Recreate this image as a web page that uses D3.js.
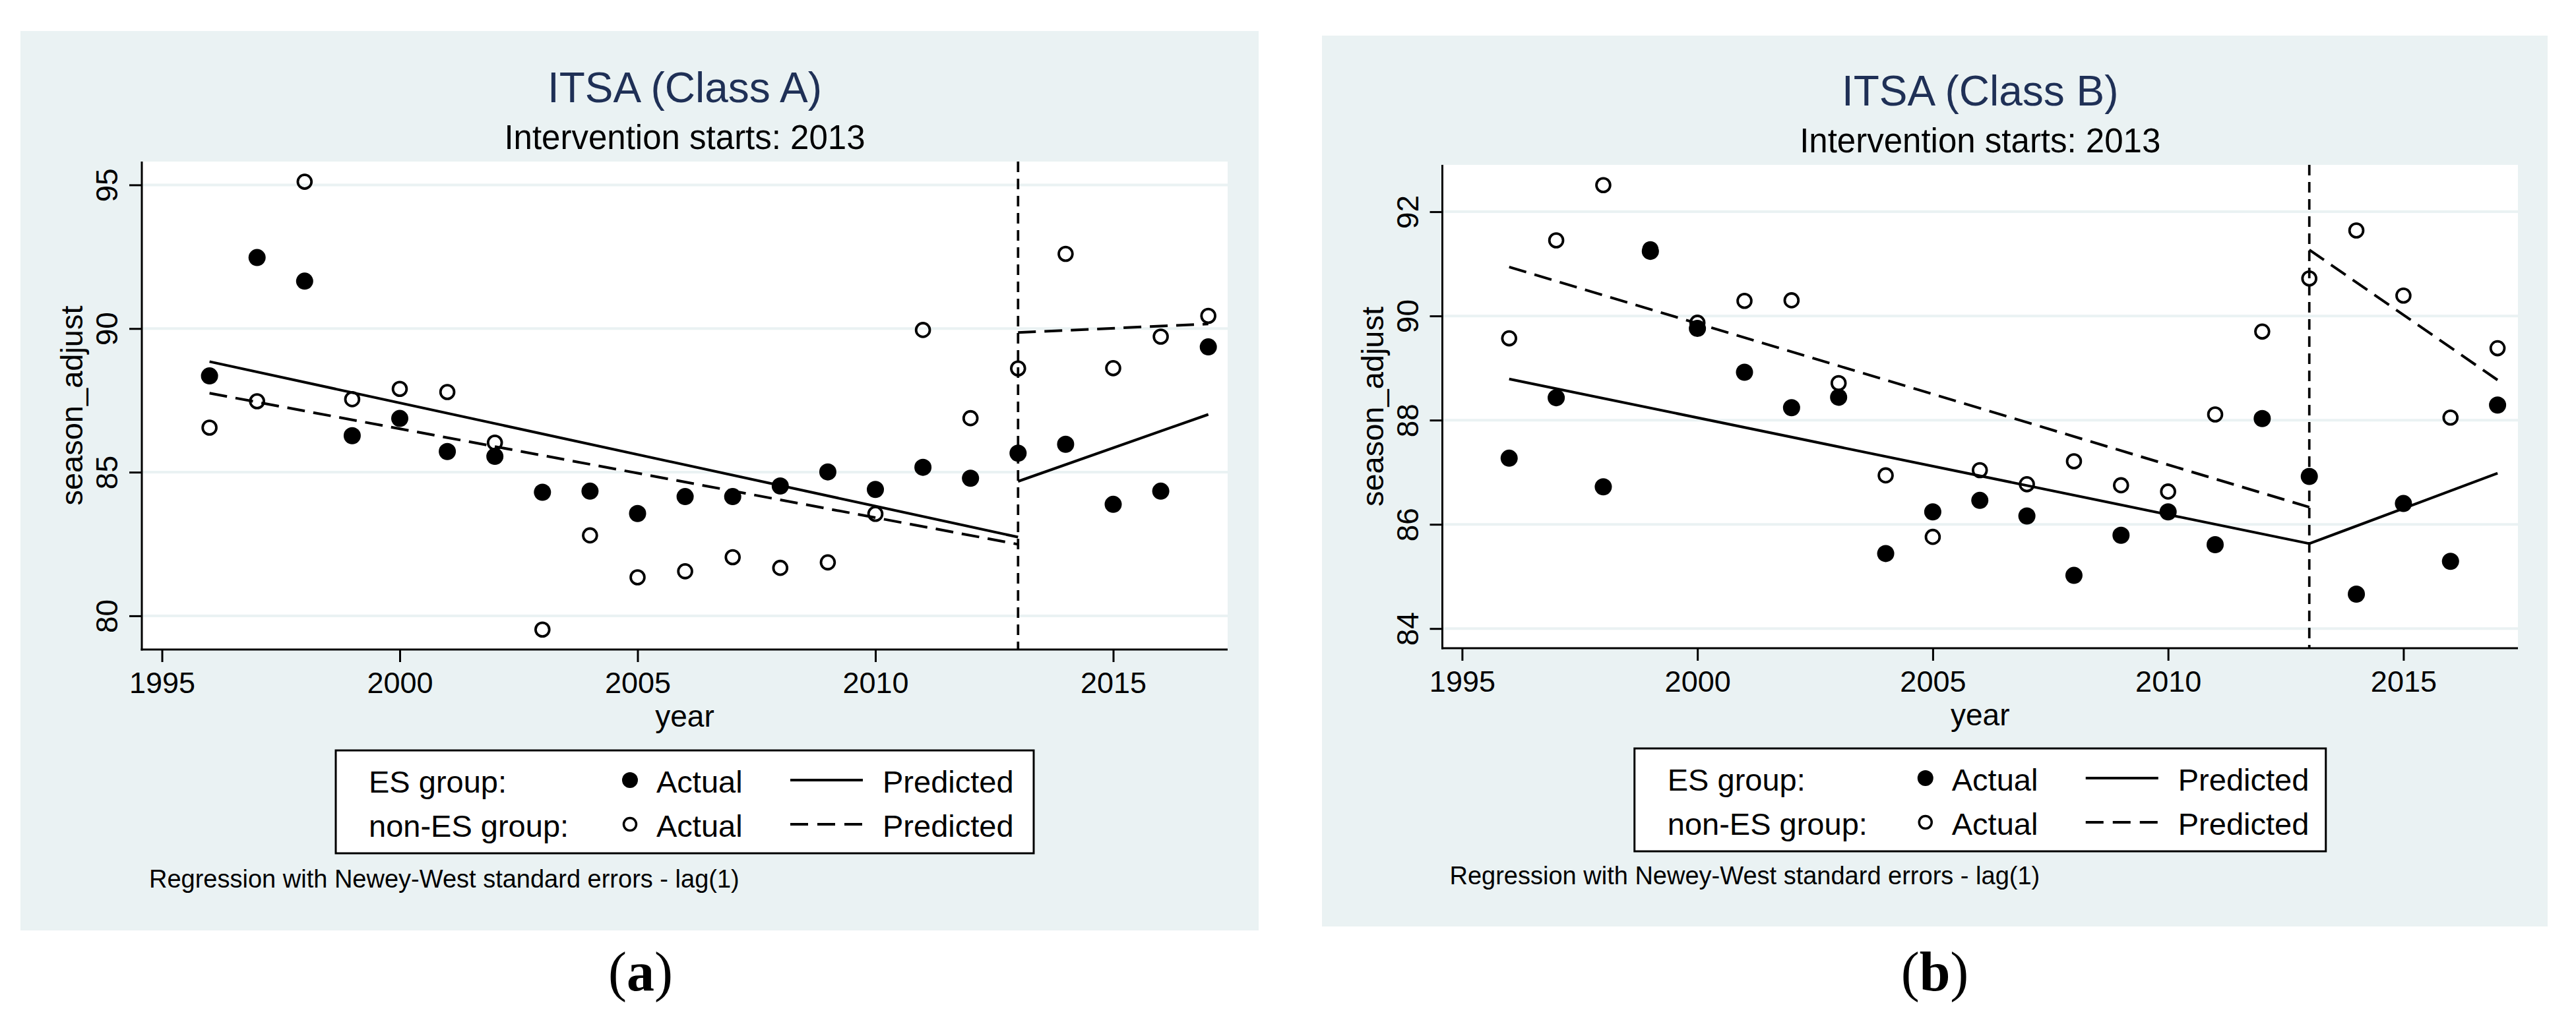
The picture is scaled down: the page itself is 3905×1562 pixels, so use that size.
<!DOCTYPE html>
<html>
<head>
<meta charset="utf-8">
<script src="https://cdn.jsdelivr.net/npm/d3@7"></script>
<style>
body { margin: 0; background: #fff; }
text { font-family: "Liberation Sans", Arial, Helvetica, sans-serif; }
text.cap { font-family: "Liberation Serif", "Times New Roman", serif; }
</style>
</head>
<body>
<svg id="fig" width="3905" height="1562"></svg>
<script>

// ---- data ----
let years = [1996,1997,1998,1999,2000,2001,2002,2003,2004,2005,2006,2007,2008,2009,2010,2011,2012,2013,2014,2015,2016,2017];
let xTickYears = [1995,2000,2005,2010,2015];
let interventionYear = 2013;

// class A
let esA    = [88.35,92.47,91.65,86.27,86.87,85.72,85.55,84.30,84.34,83.56,84.15,84.15,84.52,85.01,84.40,85.17,84.79,85.66,85.97,83.88,84.34,89.36];
let nonEsA = [86.55,87.47,95.11,87.54,87.90,87.79,86.03,79.52,82.80,81.34,81.55,82.04,81.67,81.86,83.55,89.95,86.88,88.61,92.60,88.62,89.72,90.44];
let yTicksA = [80,85,90,95];

// class B
let esB    = [87.27,88.43,86.72,91.24,89.76,88.92,88.24,88.44,85.44,86.24,86.46,86.16,85.02,85.79,86.24,85.61,88.03,86.92,84.66,86.40,85.29,88.29];
let nonEsB = [89.57,91.45,92.51,91.28,89.87,90.29,90.30,88.71,86.94,85.76,87.04,86.77,87.21,86.75,86.63,88.11,89.70,90.72,91.64,90.39,88.05,89.38];
let yTicksB = [84,86,88,90,92];

// predicted segments: before and after the intervention
let preYears  = [1996, 2013];
let postYears = [2013, 2017];
let esPreA = [88.85, 82.74],  esPostA = [84.68, 87.01];
let nonPreA = [87.75, 82.49], nonPostA = [89.86, 90.16];
let esPreB = [88.79, 85.63],  esPostB = [85.63, 86.98];
let nonPreB = [90.94, 86.33], nonPostB = [91.27, 88.77];

// text
let titles = ["ITSA (Class A)", "ITSA (Class B)"];
let subtitle = "Intervention starts: 2013";
let legendGroups = ["ES group:", "non-ES group:"];
let legendActual = "Actual";
let legendPred = "Predicted";
let note = "Regression with Newey-West standard errors - lag(1)";
let captions = ["a", "b"];

// ---- drawing ----
const svg = d3.select("#fig");
const bgColor = "#eaf2f3";
const navy = "#1f3056";

let panels = [
    { title: titles[0], cap: captions[0], es: esA, non: nonEsA, esPre: esPreA, esPost: esPostA, nonPre: nonPreA, nonPost: nonPostA,
      yTicks: yTicksA, yDomain: [80, 95], yRange: [933.9, 280.4], xRange: [245.5, 1831.7],
      bg: [31, 47, 1908, 1411], l: 215, r: 1861, t: 245, b: 985,
      legTop: 1138, legHalf: 529, noteY: 1346, capX: 971 },
    { title: titles[1], cap: captions[1], es: esB, non: nonEsB, esPre: esPreB, esPost: esPostB, nonPre: nonPreB, nonPost: nonPostB,
      yTicks: yTicksB, yDomain: [84, 92], yRange: [953.2, 321.1], xRange: [2216.4, 3786.1],
      bg: [2004, 54, 3862, 1405], l: 2186.5, r: 3817, t: 250, b: 983,
      legTop: 1135, legHalf: 524, noteY: 1341, capX: 2933 }
];

panels.forEach(p => drawPanel(p));

function drawPanel(p) {
    let g = svg.append("g");
    let cx = (p.l + p.r) / 2;

    g.append("rect")
        .attr("x", p.bg[0]).attr("y", p.bg[1])
        .attr("width", p.bg[2] - p.bg[0]).attr("height", p.bg[3] - p.bg[1])
        .attr("fill", bgColor);

    g.append("rect")
        .attr("x", p.l).attr("y", p.t)
        .attr("width", p.r - p.l).attr("height", p.b - p.t)
        .attr("fill", "#fff");

    let x = d3.scaleLinear().domain([1995, 2017]).range(p.xRange);
    let y = d3.scaleLinear().domain(p.yDomain).range(p.yRange);

    // grid
    g.selectAll(".grid")
        .data(p.yTicks)
        .join("line")
        .attr("class", "grid")
        .attr("x1", p.l).attr("x2", p.r)
        .attr("y1", d => y(d)).attr("y2", d => y(d))
        .attr("stroke", bgColor).attr("stroke-width", 4);

    // y axis
    let ya = g.append("g")
        .attr("transform", `translate(${p.l},0)`)
        .call(d3.axisLeft(y).tickValues(p.yTicks).tickSize(19).tickSizeOuter(0).tickFormat(d3.format("d")));
    ya.select(".domain").remove();
    ya.selectAll(".tick line").attr("stroke", "#000").attr("stroke-width", 3);
    ya.selectAll(".tick text")
        .attr("transform", "rotate(-90)")
        .attr("x", 0).attr("y", -37).attr("dy", null)
        .attr("text-anchor", "middle")
        .attr("font-size", 46).attr("font-family", null).attr("fill", "#000");

    // x axis
    let xa = g.append("g")
        .attr("transform", `translate(0,${p.b})`)
        .call(d3.axisBottom(x).tickValues(xTickYears).tickSize(19).tickSizeOuter(0).tickFormat(d3.format("d")));
    xa.select(".domain").remove();
    xa.selectAll(".tick line").attr("stroke", "#000").attr("stroke-width", 3);
    xa.selectAll(".tick text")
        .attr("y", 66).attr("dy", null)
        .attr("font-size", 45).attr("font-family", null).attr("fill", "#000");

    // axis lines
    g.append("line").attr("x1", p.l).attr("x2", p.l).attr("y1", p.t).attr("y2", p.b + 1.5)
        .attr("stroke", "#000").attr("stroke-width", 3);
    g.append("line").attr("x1", p.l - 1.5).attr("x2", p.r).attr("y1", p.b).attr("y2", p.b)
        .attr("stroke", "#000").attr("stroke-width", 3);

    // markers
    g.append("g").selectAll("circle")
        .data(years.map((yr, i) => [yr, p.non[i]]))
        .join("circle")
        .attr("cx", d => x(d[0])).attr("cy", d => y(d[1]))
        .attr("r", 10.4)
        .attr("fill", "none").attr("stroke", "#000").attr("stroke-width", 3.8);

    g.append("g").selectAll("circle")
        .data(years.map((yr, i) => [yr, p.es[i]]))
        .join("circle")
        .attr("cx", d => x(d[0])).attr("cy", d => y(d[1]))
        .attr("r", 13)
        .attr("fill", "#000");

    // predicted lines
    let line = d3.line().x(d => x(d[0])).y(d => y(d[1]));
    let seg = (yrs, vals) => yrs.map((yr, i) => [yr, vals[i]]);

    [seg(preYears, p.esPre), seg(postYears, p.esPost)].forEach(s => {
        g.append("path").attr("d", line(s))
            .attr("fill", "none").attr("stroke", "#000").attr("stroke-width", 4);
    });
    [seg(preYears, p.nonPre), seg(postYears, p.nonPost)].forEach(s => {
        g.append("path").attr("d", line(s))
            .attr("fill", "none").attr("stroke", "#000").attr("stroke-width", 4)
            .attr("stroke-dasharray", "27,13");
    });

    // intervention line
    g.append("line")
        .attr("x1", x(interventionYear)).attr("x2", x(interventionYear))
        .attr("y1", p.t).attr("y2", p.b)
        .attr("stroke", "#000").attr("stroke-width", 3.7)
        .attr("stroke-dasharray", "16,10");

    // titles
    g.append("text").attr("x", cx).attr("y", p.t - 90.5)
        .attr("text-anchor", "middle").attr("font-size", 64).attr("fill", navy)
        .text(p.title);
    g.append("text").attr("x", cx).attr("y", p.t - 19)
        .attr("text-anchor", "middle").attr("font-size", 51).attr("fill", "#000")
        .text(subtitle);

    // axis titles
    g.append("text")
        .attr("transform", `translate(${p.l - 90},${(p.t + p.b) / 2}) rotate(-90)`)
        .attr("text-anchor", "middle").attr("font-size", 47)
        .text("season_adjust");
    g.append("text").attr("x", cx).attr("y", p.b + 117)
        .attr("text-anchor", "middle").attr("font-size", 46)
        .text("year");

    // legend
    let lx = cx - p.legHalf;
    g.append("rect")
        .attr("x", lx).attr("y", p.legTop)
        .attr("width", p.legHalf * 2).attr("height", 156)
        .attr("fill", "#fff").attr("stroke", "#000").attr("stroke-width", 3);

    legendGroups.forEach((lab, i) => {
        let base = p.legTop + 64 + i * 66.5;
        let mid = p.legTop + 45 + i * 67;
        g.append("text").attr("x", lx + 50).attr("y", base).attr("font-size", 47).text(lab);
        if (i === 0) {
            g.append("circle").attr("cx", cx - 83).attr("cy", mid).attr("r", 12).attr("fill", "#000");
        } else {
            g.append("circle").attr("cx", cx - 83).attr("cy", mid).attr("r", 9.5)
                .attr("fill", "none").attr("stroke", "#000").attr("stroke-width", 3.5);
        }
        g.append("text").attr("x", cx - 43).attr("y", base).attr("font-size", 47).text(legendActual);
        g.append("line")
            .attr("x1", cx + 160).attr("x2", cx + 270).attr("y1", mid).attr("y2", mid)
            .attr("stroke", "#000").attr("stroke-width", 4)
            .attr("stroke-dasharray", i === 0 ? null : "27,14");
        g.append("text").attr("x", cx + 300).attr("y", base).attr("font-size", 47).text(legendPred);
    });

    // note
    g.append("text").attr("x", p.l + 11).attr("y", p.noteY)
        .attr("font-size", 38).text(note);

    // caption
    let c = svg.append("text").attr("class", "cap")
        .attr("x", p.capX).attr("y", 1502)
        .attr("text-anchor", "middle").attr("font-size", 84);
    c.append("tspan").text("(");
    c.append("tspan").attr("font-weight", "bold").text(p.cap);
    c.append("tspan").text(")");
}
</script>
</body>
</html>
